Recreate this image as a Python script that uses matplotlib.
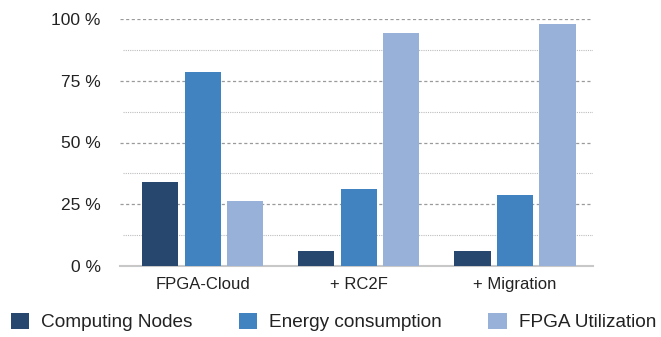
import numpy as np
import matplotlib
matplotlib.use("Agg")
import matplotlib.pyplot as plt
from matplotlib.patches import Patch

# scenario results, percent
groups = ["FPGA-Cloud", "+ RC2F", "+ Migration"]
series = ["Computing Nodes", "Energy consumption", "FPGA Utilization"]
computing_nodes = [34.0, 6.1, 6.1]
energy = [78.5, 31.2, 28.7]
fpga_util = [26.3, 94.3, 98.0]
colors = ["#27476e", "#4183c1", "#97b1d9"]

plt.rcParams['font.family'] = ['Liberation Sans', 'DejaVu Sans']

fig = plt.figure(figsize=(6.61, 3.37), dpi=100)
ax = fig.add_axes([120 / 661, 1 - 266 / 337, 473 / 661, 247 / 337])

x = np.arange(len(groups))
width = 0.232
step = 0.272
for i, (vals, c) in enumerate(zip([computing_nodes, energy, fpga_util], colors)):
    ax.bar(x + (i - 1) * step, vals, width, color=c, zorder=3)

ax.set_xlim(-0.53, 2.5)
ax.set_ylim(0, 100)
ax.set_yticks([0, 25, 50, 75, 100])
ax.set_yticklabels(["0 %", "25 %", "50 %", "75 %", "100 %"])
ax.set_xticks(x)
ax.set_xticklabels(groups)

# dashed major lines and lighter dotted lines between them
for y in [25, 50, 75, 100]:
    ax.axhline(y, color="#9a9a9a", lw=0.9, ls=(0, (2.5, 2)), zorder=1)
for y in [12.5, 37.5, 62.5, 87.5]:
    ax.axhline(y, xmin=0.006, color="#bdbdbd", lw=0.8, ls=(0, (1, 1)), zorder=1)

for s in ["top", "right", "left"]:
    ax.spines[s].set_visible(False)
ax.spines["bottom"].set_color("#c8c8c8")
ax.spines["bottom"].set_linewidth(1.5)
ax.tick_params(length=0, labelsize=12.5, colors="#222222")
ax.tick_params(axis="x", labelsize=12)
ax.tick_params(axis="y", pad=14)
ax.tick_params(axis="x", pad=8)

handles = [Patch(facecolor=c) for c in colors]
fig.legend(handles, series, loc="center left", bbox_to_anchor=(11 / 661, 1 - 322 / 337),
           ncol=3, frameon=False, fontsize=13.7, handlelength=0.95, handleheight=0.9,
           handletextpad=0.63, columnspacing=2.45, borderaxespad=0, borderpad=0,
           labelcolor="#222222")

fig.savefig("out.png", dpi=100)
